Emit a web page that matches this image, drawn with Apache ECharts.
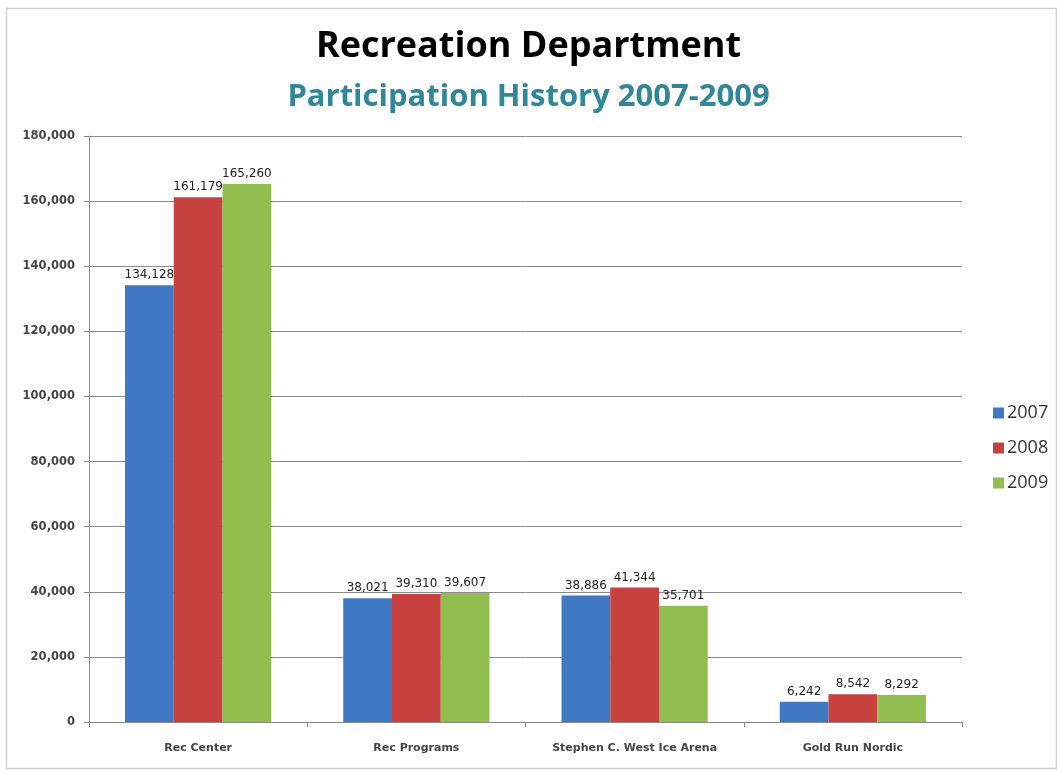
<!DOCTYPE html>
<html>
<head>
<meta charset="utf-8">
<script src="https://cdn.jsdelivr.net/npm/echarts@6/dist/echarts.min.js"></script>
<style>
  html, body { margin: 0; padding: 0; background: #fff; }
  #chart { width: 1057px; height: 772px; }
</style>
</head>
<body>
<div id="chart"></div>
<script>
const categories = ["Rec Center", "Rec Programs", "Stephen C. West Ice Arena", "Gold Run Nordic"];
const years = ["2007", "2008", "2009"];
const values2007 = [134128, 38021, 38886, 6242];
const values2008 = [161179, 39310, 41344, 8542];
const values2009 = [165260, 39607, 35701, 8292];
const colors = ["#3F78C3", "#C7423F", "#92BE50"];

const fmt = v => Number(v).toLocaleString("en-US");

const chart = echarts.init(document.getElementById("chart"));

function bar(name, data, color) {
    return {
        name,
        type: "bar",
        data,
        barGap: "0%",
        barCategoryGap: "33%",
        itemStyle: { color },
        label: {
            show: true,
            position: "top",
            distance: 4,
            formatter: p => fmt(p.value),
            fontFamily: "DejaVu Sans",
            fontSize: 12,
            color: "#222"
        }
    };
}

chart.setOption({
    backgroundColor: "#fff",
    animation: false,

    title: [
        {
            text: "Recreation Department",
            left: "center",
            top: 24,
            textStyle: { fontFamily: "Open Sans", fontWeight: "bold", fontSize: 36, color: "#000" }
        },
        {
            text: "Participation History 2007-2009",
            left: "center",
            top: 77,
            textStyle: { fontFamily: "Open Sans", fontWeight: "bold", fontSize: 31, color: "#31879A" }
        }
    ],

    legend: {
        orient: "vertical",
        left: 988,
        top: 399,
        itemWidth: 11,
        itemHeight: 11,
        itemGap: 17,
        icon: "rect",
        textStyle: { fontFamily: "Open Sans", fontSize: 18, color: "#333", padding: [0, 0, 0, -2] },
        data: years
    },

    grid: { left: 89, right: 95, top: 136, bottom: 50 },

    xAxis: {
        type: "category",
        data: categories,
        axisLine: { lineStyle: { color: "#888" } },
        axisTick: { show: true, interval: 0, length: 5, lineStyle: { color: "#888" } },
        axisLabel: {
            interval: 0,
            fontFamily: "DejaVu Sans",
            fontSize: 11,
            fontWeight: "bold",
            color: "#444",
            margin: 21
        }
    },

    yAxis: {
        type: "value",
        min: 0,
        max: 180000,
        interval: 20000,
        axisLine: { show: true, lineStyle: { color: "#888" } },
        axisTick: { show: true, length: 5, lineStyle: { color: "#888" } },
        splitLine: { lineStyle: { color: "#8a8a8a", width: 1 } },
        axisLabel: {
            formatter: v => fmt(v),
            fontFamily: "DejaVu Sans",
            fontSize: 11.5,
            fontWeight: "bold",
            color: "#444",
            margin: 14
        }
    },

    graphic: [{
        type: "rect",
        left: 4,
        top: 6,
        shape: { width: 1050, height: 760 },
        style: { fill: "none", stroke: "#cfcfcf", lineWidth: 1.5 },
        silent: true
    }],

    series: [
        bar(years[0], values2007, colors[0]),
        bar(years[1], values2008, colors[1]),
        bar(years[2], values2009, colors[2])
    ]
});
</script>
</body>
</html>
